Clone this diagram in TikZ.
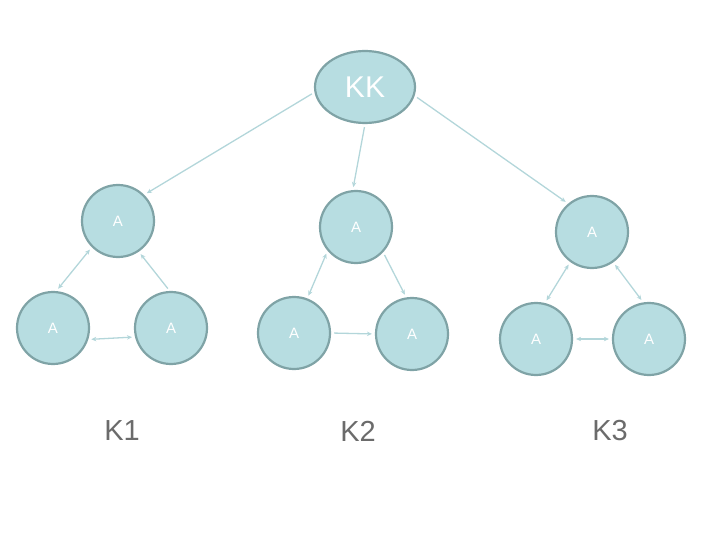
\documentclass[tikz,border=0pt]{standalone}
\usepackage{fontspec}
\setmainfont{Liberation Sans}
\usepackage{xcolor}
\usetikzlibrary{arrows.meta,shapes.geometric}
\definecolor{cellfill}{HTML}{B7DDE1}
\definecolor{cellrim}{HTML}{7FA3A6}
\definecolor{wire}{HTML}{B3D6DA}
\definecolor{tagtext}{HTML}{6B6B6B}

\begin{document}
\begin{tikzpicture}[
  x=1pt, y=-1pt,
  >={Stealth[length=5pt,width=4.5pt]},
  agent/.style={circle, draw=cellrim, fill=cellfill, line width=2.2pt,
    minimum size=72pt, inner sep=0pt, text=white,
    font=\fontsize{15}{15}\selectfont},
  link/.style={wire, line width=1.3pt, shorten <=3pt, shorten >=3pt},
  tag/.style={text=tagtext, font=\fontsize{29}{29}\selectfont},
]
  \useasboundingbox (0,0) rectangle (720,540);

  % root
  \node[ellipse, draw=cellrim, fill=cellfill, line width=2.2pt,
        minimum width=100pt, minimum height=72pt, inner sep=0pt,
        text=white, font=\fontsize{30}{30}\selectfont] (kk) at (365,87) {KK};

  % first group
  \node[agent] (a1) at (118,221) {A};
  \node[agent] (b1l) at (53,328) {A};
  \node[agent] (b1r) at (171,328) {A};
  \node[tag] (k1) at (122,431) {K1};

  % second group
  \node[agent] (a2) at (356,227) {A};
  \node[agent] (b2l) at (294,333) {A};
  \node[agent] (b2r) at (412,334) {A};
  \node[tag] (k2) at (358,431) {K2};

  % third group
  \node[agent] (a3) at (592,232) {A};
  \node[agent] (b3l) at (536,339) {A};
  \node[agent] (b3r) at (649,339) {A};
  \node[tag] (k3) at (610,431) {K3};

  % root to the group heads
  \draw[link, ->] (kk.186) -- (a1.45);
  \draw[link, ->] (kk.south) -- (a2.95);
  \draw[link, ->] (kk.350) -- (a3.130);

  % inside the groups
  \draw[link, <->] (a1.225) -- (b1l.85);
  \draw[link, <-] (a1.-56) -- (b1r.92);
  \draw[link, <->] (b1l.-18) -- (b1r.194);

  \draw[link, <->] (a2.220) -- (b2l.69);
  \draw[link, ->] (a2.-43) -- (b2r.99);
  \draw[link, ->] (b2l.0) -- (b2r.180);

  \draw[link, <->] (a3.234) -- (b3l.76);
  \draw[link, <->] (a3.-55) -- (b3r.99);
  \draw[link, <->] (b3l.0) -- (b3r.180);
\end{tikzpicture}
\end{document}
